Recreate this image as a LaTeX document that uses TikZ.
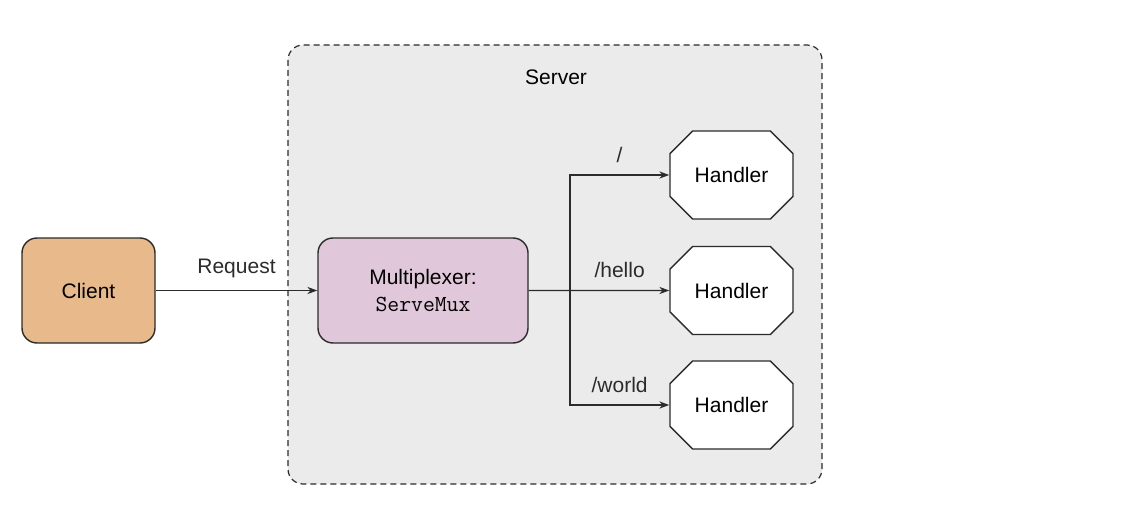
\documentclass[tikz,border=0pt]{standalone}
\usepackage{fontspec}
\setmainfont{Liberation Sans}
\usepackage{tikz}
\usetikzlibrary{positioning, arrows.meta, shapes.misc}
\definecolor{cClient}{HTML}{E8B98B}
\definecolor{cMux}{HTML}{E0C8DA}
\definecolor{cServer}{HTML}{EBEBEB}
\definecolor{cLine}{HTML}{2B2B2B}
\tikzset{
  box/.style={
    rectangle, rounded corners=7.5pt, draw=cLine, line width=0.7pt,
    minimum width=66.5pt, minimum height=52.5pt,
    font=\fontsize{10.5}{12.5}\selectfont, align=center
  },
  handler/.style={
    chamfered rectangle, chamfered rectangle xsep=7.5pt, chamfered rectangle ysep=7.5pt,
    draw=cLine, line width=0.7pt, fill=white, inner sep=0pt,
    minimum width=61.5pt, minimum height=44pt,
    font=\fontsize{10.5}{12.5}\selectfont
  },
  zone/.style={
    rectangle, rounded corners=7.5pt, draw=cLine, line width=0.6pt,
    dash pattern=on 3pt off 2pt, fill=cServer
  },
  lbl/.style={font=\fontsize{10.5}{12.5}\selectfont, inner sep=3pt},
  arrow/.style={-{Stealth[length=5pt, width=3.6pt]}, line width=0.7pt, color=cLine},
}
\begin{document}
\begin{tikzpicture}[x=0.5pt, y=-0.5pt]
  \useasboundingbox (0,0) rectangle (1146,508);

  \draw[zone] (288,45) rectangle (822,484);
  \node[lbl] (server) at (556,77) {Server};

  \node[box, fill=cClient] (client) at (88.5,290.5) {Client};
  \node[box, fill=cMux, minimum width=105pt] (mux) at (423,290.5)
    {Multiplexer:\\[1pt]{\fontsize{11.5}{12.5}\selectfont\ttfamily ServeMux}};

  \node[handler] (hroot)  at (731.5,175) {Handler};
  \node[handler] (hhello) at (731.5,290.5) {Handler};
  \node[handler] (hworld) at (731.5,405) {Handler};

  \coordinate (split) at (570,290.5);

  \draw[arrow] (client) -- node[lbl, above=3pt] {Request} (mux);
  \draw[arrow] (mux) -- (split) -- node[lbl, above=3pt, pos=0.5] {/hello} (hhello);
  \draw[arrow] (split) |- node[lbl, above=3pt, pos=0.75] {/} (hroot);
  \draw[arrow] (split) |- node[lbl, above=3pt, pos=0.75] {/world} (hworld);

\end{tikzpicture}
\end{document}
